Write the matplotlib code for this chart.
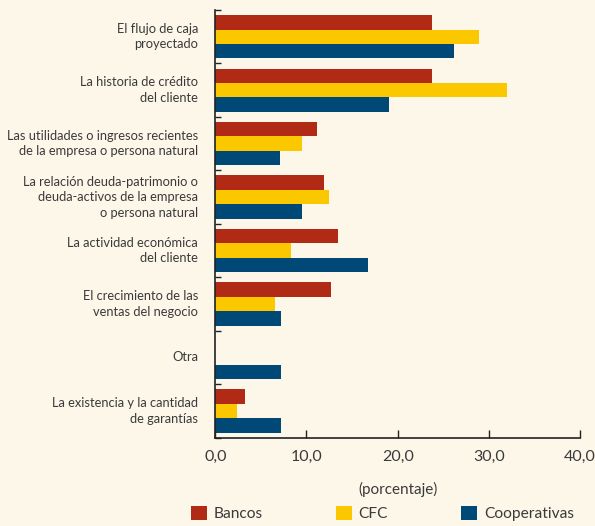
import matplotlib.pyplot as plt
import numpy as np
from matplotlib.patches import Patch

# Categories, top to bottom
categorias = [
    "El flujo de caja\nproyectado",
    "La historia de crédito\ndel cliente",
    "Las utilidades o ingresos recientes\nde la empresa o persona natural",
    "La relación deuda-patrimonio o\ndeuda-activos de la empresa\no persona natural",
    "La actividad económica\ndel cliente",
    "El crecimiento de las\nventas del negocio",
    "Otra",
    "La existencia y la cantidad\nde garantías",
]

bancos = [23.8, 23.8, 11.1, 11.9, 13.5, 12.7, 0.0, 3.2]
cfc = [28.9, 32.0, 9.5, 12.5, 8.3, 6.5, 0.0, 2.4]
cooperativas = [26.2, 19.1, 7.1, 9.5, 16.7, 7.2, 7.2, 7.2]

series = ["Bancos", "CFC", "Cooperativas"]
colores = ["#B02A15", "#FBC800", "#004876"]

x_ticks = [0, 10, 20, 30, 40]
x_labels = ["0,0", "10,0", "20,0", "30,0", "40,0"]

fondo = "#FDF7EA"
texto = "#3A3A3A"

plt.rcParams["font.family"] = ["Lato", "DejaVu Sans"]

fig = plt.figure(figsize=(5.95, 5.26), dpi=100, facecolor=fondo)
ax = fig.add_axes([0.3619, 0.168, 0.6129, 0.813])
ax.set_facecolor(fondo)

n = len(categorias)
y = np.arange(n)
h = 0.27
for k, (vals, col) in enumerate(zip([bancos, cfc, cooperativas], colores)):
    ax.barh(y + (k - 1) * h, vals, height=h, color=col, edgecolor="none")

ax.set_ylim(n - 0.5, -0.5)
ax.set_xlim(0, 40)

# category boundary ticks
ax.set_yticks(np.arange(n + 1) - 0.5, minor=False)
ax.set_yticklabels([])
ax.tick_params(axis="y", direction="in", length=4, width=1, color="#222222")
for i, lab in enumerate(categorias):
    ax.text(-1.9, i, lab, ha="right", va="center", fontsize=9.3,
            color=texto, linespacing=1.35)

ax.set_xticks(x_ticks)
ax.set_xticklabels(x_labels, fontsize=11.5, color=texto)
ax.tick_params(axis="x", direction="in", length=6, width=1, color="#222222", pad=9)
ax.set_xlabel("(porcentaje)", fontsize=11, color=texto, labelpad=13)

for s in ["top", "right"]:
    ax.spines[s].set_visible(False)
for s in ["left", "bottom"]:
    ax.spines[s].set_color("#222222")
    ax.spines[s].set_linewidth(1.2)

handles = [Patch(facecolor=c, edgecolor="none") for c in colores]
fig.legend(handles, series, loc="lower left", bbox_to_anchor=(0.298, -0.018),
           ncol=3, frameon=False, fontsize=11.2, handlelength=1.0,
           handleheight=1.0, handletextpad=0.45, columnspacing=4.7,
           labelcolor=texto)

fig.savefig("out.png", dpi=100, facecolor=fondo)
